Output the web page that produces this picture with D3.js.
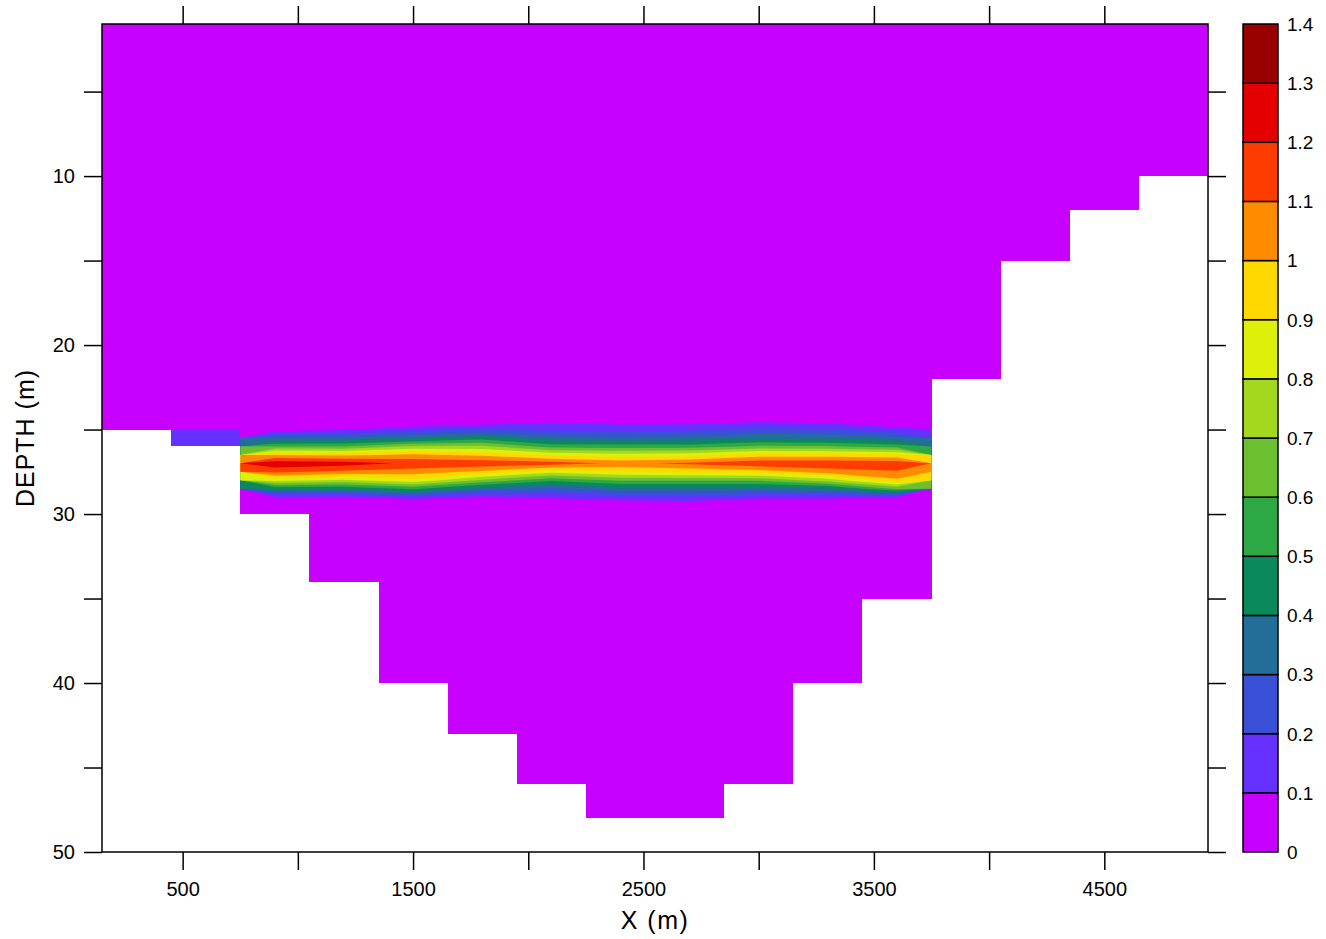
<!DOCTYPE html>
<html>
<head>
<meta charset="utf-8">
<script src="https://cdn.jsdelivr.net/npm/d3@7"></script>
<style>
  body { margin: 0; background: #fff; }
  text { font-family: "Liberation Sans", Arial, sans-serif; fill: #000; }
</style>
</head>
<body>
<svg id="chart" width="1326" height="939"></svg>
<script>
// section cells are 300 m wide; bottom depth of each water column (m)
const colEdges = [150, 450, 750, 1050, 1350, 1650, 1950, 2250, 2550, 2850, 3150, 3450, 3750, 4050, 4350, 4650, 4950];
const bottomDepth = [25, 26, 30, 34, 40, 43, 46, 48, 48, 46, 40, 35, 22, 15, 12, 10];
const surfaceDepth = 1;

// contour levels and fill colours
const levels = [0, 0.1, 0.2, 0.3, 0.4, 0.5, 0.6, 0.7, 0.8, 0.9, 1.0, 1.1, 1.2, 1.3, 1.4];
const levelLabels = ['0', '0.1', '0.2', '0.3', '0.4', '0.5', '0.6', '0.7', '0.8', '0.9', '1', '1.1', '1.2', '1.3', '1.4'];
const levelColors = ['#c800ff', '#6630ff', '#3a50d6', '#226d9a', '#0a8a5a', '#2ea844', '#6cc030', '#a4d81e',
  '#dcf00a', '#ffd800', '#ff8c00', '#ff3c00', '#e40000', '#990000'];

// the layer: values at cell centres x and depths (one list per column, top to bottom)
const bandX = [900, 1200, 1500, 1800, 2100, 2400, 2700, 3000, 3300, 3600];
const bandDepth = [24.5, 25, 25.5, 26, 26.5, 27, 27.5, 28, 28.5, 29, 29.5];
const bandValues = [
  [0.00, 0.05, 0.30, 0.60, 1.00, 1.28, 1.12, 0.84, 0.41, 0.09, 0],
  [0.00, 0.09, 0.32, 0.60, 0.98, 1.25, 1.08, 0.78, 0.42, 0.08, 0],
  [0.00, 0.15, 0.37, 0.72, 1.02, 1.18, 1.05, 0.88, 0.52, 0.13, 0],
  [0.02, 0.21, 0.45, 0.72, 0.98, 1.17, 0.98, 0.68, 0.35, 0.08, 0],
  [0.08, 0.18, 0.33, 0.56, 0.88, 1.15, 0.84, 0.52, 0.28, 0.11, 0],
  [0.05, 0.17, 0.32, 0.55, 0.84, 1.08, 0.90, 0.62, 0.35, 0.16, 0],
  [0.05, 0.18, 0.33, 0.55, 0.86, 1.12, 0.92, 0.62, 0.35, 0.18, 0],
  [0.08, 0.22, 0.38, 0.62, 0.95, 1.18, 0.95, 0.62, 0.35, 0.12, 0],
  [0.06, 0.21, 0.36, 0.61, 0.95, 1.18, 1.05, 0.75, 0.38, 0.12, 0],
  [0.00, 0.13, 0.33, 0.55, 0.92, 1.17, 1.09, 0.98, 0.62, 0.09, 0]
];
// bottom cell of the second column
const shelfCells = [{ x0: 450, x1: 750, top: 25, bottom: 26, value: 0.15 }];

const xTicks = [500, 1000, 1500, 2000, 2500, 3000, 3500, 4000, 4500];
const xTickLabels = [500, 1500, 2500, 3500, 4500];
const yTicks = [5, 10, 15, 20, 25, 30, 35, 40, 45, 50];
const yTickLabels = [10, 20, 30, 40, 50];

const svg = d3.select('#chart');
const margin = { top: 24, right: 118, bottom: 87, left: 102 };
const W = 1326, H = 939;
const plotR = W - margin.right, plotB = H - margin.bottom;

const x = d3.scaleLinear().domain([150, 4950]).range([margin.left, plotR]);
const y = d3.scaleLinear().domain([1, 50]).range([margin.top, plotB]);
const color = d3.scaleThreshold().domain(levels.slice(1, -1)).range(levelColors);

// water outline (step bottom)
const waterPts = [[colEdges[0], surfaceDepth]];
bottomDepth.forEach((d, i) => { waterPts.push([colEdges[i], d], [colEdges[i + 1], d]); });
waterPts.push([colEdges[colEdges.length - 1], surfaceDepth]);
const waterLine = d3.line().x(d => x(d[0])).y(d => y(d[1]));

svg.append('defs').append('clipPath').attr('id', 'water')
  .append('path').attr('d', waterLine(waterPts) + 'Z');

svg.append('path')
  .attr('d', waterLine(waterPts) + 'Z')
  .attr('fill', color(0))
  .attr('shape-rendering', 'crispEdges');

const g = svg.append('g').attr('clip-path', 'url(#water)');

// filled contours of the layer
const nx = bandX.length, ny = bandDepth.length;
const grid = [];
for (let j = 0; j < ny; j++) for (let i = 0; i < nx; i++) grid.push(bandValues[i][j]);
const dxm = bandX[1] - bandX[0], ddm = bandDepth[1] - bandDepth[0];
const gx0 = bandX[0] - dxm / 2, gy0 = bandDepth[0] - ddm / 2;
const proj = d3.geoTransform({
  point(px, py) { this.stream.point(x(gx0 + px * dxm), y(gy0 + py * ddm)); }
});
const contourPath = d3.geoPath(proj);
const contours = d3.contours().size([nx, ny]).thresholds(levels.slice(1, -1))(grid);

g.selectAll('path.band')
  .data(contours)
  .join('path')
  .attr('class', 'band')
  .attr('d', contourPath)
  .attr('fill', d => color(d.value));

g.selectAll('rect.shelf')
  .data(shelfCells)
  .join('rect')
  .attr('class', 'shelf')
  .attr('x', d => x(d.x0))
  .attr('y', d => y(d.top))
  .attr('width', d => x(d.x1) - x(d.x0))
  .attr('height', d => y(d.bottom) - y(d.top))
  .attr('fill', d => color(d.value))
  .attr('shape-rendering', 'crispEdges');

// axes
const styleAxis = sel => {
  sel.selectAll('.domain').remove();
  sel.selectAll('line').attr('stroke', '#000').attr('stroke-width', 1.5);
  sel.selectAll('text').style('font-size', '20px').attr('fill', '#000');
};
const xFmt = d => xTickLabels.includes(d) ? d : '';
const yFmt = d => yTickLabels.includes(d) ? d : '';

svg.append('g')
  .attr('transform', `translate(0,${plotB})`)
  .call(d3.axisBottom(x).tickValues(xTicks).tickSize(18).tickPadding(12).tickFormat(xFmt))
  .call(styleAxis);
svg.append('g')
  .attr('transform', `translate(0,${margin.top})`)
  .call(d3.axisTop(x).tickValues(xTicks).tickSize(18).tickFormat(''))
  .call(styleAxis);
svg.append('g')
  .attr('transform', `translate(${margin.left},0)`)
  .call(d3.axisLeft(y).tickValues(yTicks).tickSize(18).tickPadding(9).tickFormat(yFmt))
  .call(styleAxis);
svg.append('g')
  .attr('transform', `translate(${plotR},0)`)
  .call(d3.axisRight(y).tickValues(yTicks).tickSize(18).tickFormat(''))
  .call(styleAxis);

svg.append('rect')
  .attr('x', margin.left).attr('y', margin.top)
  .attr('width', plotR - margin.left).attr('height', plotB - margin.top)
  .attr('fill', 'none').attr('stroke', '#000').attr('stroke-width', 1.5);

svg.append('text')
  .attr('x', (margin.left + plotR) / 2).attr('y', 929)
  .attr('text-anchor', 'middle')
  .style('font-size', '25px').style('letter-spacing', '1.5px')
  .text('X (m)');
svg.append('text')
  .attr('transform', `translate(34,${(margin.top + plotB) / 2}) rotate(-90)`)
  .attr('text-anchor', 'middle')
  .style('font-size', '25px').style('letter-spacing', '1px')
  .text('DEPTH (m)');

// colour bar
const cbX = 1243, cbW = 35;
const cb = d3.scaleLinear().domain([0, 1.4]).range([plotB, margin.top]);
const bar = svg.append('g');
bar.selectAll('rect')
  .data(levelColors)
  .join('rect')
  .attr('x', cbX)
  .attr('y', (c, i) => cb(levels[i + 1]))
  .attr('width', cbW)
  .attr('height', (c, i) => cb(levels[i]) - cb(levels[i + 1]))
  .attr('fill', c => c)
  .attr('stroke', '#000').attr('stroke-width', 1.5);
bar.selectAll('text')
  .data(levelLabels)
  .join('text')
  .attr('x', cbX + cbW + 9)
  .attr('y', (t, i) => cb(levels[i]))
  .attr('dy', '0.36em')
  .style('font-size', '19px')
  .text(t => t);
</script>
</body>
</html>
